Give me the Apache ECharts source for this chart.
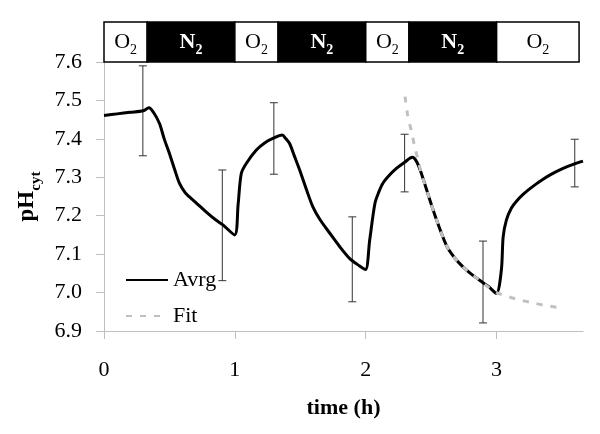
<!DOCTYPE html>
<html><head><meta charset="utf-8">
<script src="https://cdn.jsdelivr.net/npm/echarts@6/dist/echarts.min.js"></script>
<style>html,body{margin:0;padding:0;background:#fff}#c{width:600px;height:434px}</style>
</head><body><div id="c"></div>
<script>
// Average cytosolic pH trace
const avrgTime = [0.00,0.10,0.20,0.30,0.343,0.38,0.424,0.46,0.50,0.54,0.577,0.62,0.653,0.70,0.78,0.85,0.909,0.998,1.025,1.049,1.087,1.164,1.23,1.29,1.362,1.39,1.418,1.455,1.495,1.55,1.596,1.65,1.724,1.80,1.876,1.95,1.998,2.03,2.07,2.10,2.13,2.18,2.234,2.30,2.356,2.39,2.425,2.49,2.54,2.616,2.68,2.743,2.80,2.87,2.94,2.998,3.036,3.05,3.075,3.113,3.15,3.20,3.28,3.355,3.43,3.508,3.58,3.66];
const avrgPH  = [7.461,7.465,7.469,7.473,7.481,7.468,7.44,7.40,7.362,7.32,7.284,7.26,7.249,7.235,7.21,7.19,7.176,7.15,7.23,7.31,7.336,7.371,7.39,7.401,7.41,7.40,7.388,7.355,7.319,7.265,7.223,7.19,7.155,7.12,7.089,7.07,7.06,7.136,7.232,7.262,7.284,7.305,7.323,7.34,7.352,7.34,7.31,7.241,7.19,7.123,7.09,7.067,7.05,7.032,7.015,6.998,7.058,7.145,7.189,7.22,7.237,7.255,7.277,7.295,7.31,7.323,7.333,7.342];
// Fit curve
const fitTime = [2.30,2.32,2.35,2.374,2.40,2.425,2.49,2.54,2.616,2.68,2.743,2.80,2.87,2.94,3.00,3.075,3.15,3.28,3.38,3.48];
const fitPH   = [7.51,7.462,7.418,7.38,7.345,7.31,7.241,7.19,7.123,7.09,7.067,7.05,7.032,7.013,7.0,6.991,6.983,6.973,6.966,6.961];
// Error bars
const errTime = [0.297,0.904,1.298,1.897,2.297,2.896,3.597];
const errLow  = [7.356,7.031,7.308,6.976,7.262,6.921,7.275];
const errHigh = [7.59,7.319,7.494,7.197,7.412,7.134,7.399];
// Gas phases (top bar)
const gasLabels = ['O2','N2','O2','N2','O2','N2','O2'];
const gasStart  = [0,0.33,1,1.33,2,2.33,3];
const gasEnd    = [0.33,1,1.33,2,2.33,3,3.63];
// Axis ticks
const xTicks = [0,1,2,3];

const FF = 'Liberation Serif';
const chart = echarts.init(document.getElementById('c'));
const zip2 = (a,b)=>a.map((v,i)=>[v,b[i]]);

chart.setOption({
  animation:false,
  backgroundColor:'#fff',
  grid:[
    {left:104,right:17,top:62,bottom:103},
    {left:104,right:17,top:22,height:40}
  ],
  xAxis:[
    {type:'value',gridIndex:0,min:0,max:3.66,interval:1,
     axisLine:{lineStyle:{color:'#bfbfbf',width:1}},
     axisTick:{show:true,length:8,inside:false,customValues:xTicks,lineStyle:{color:'#bfbfbf'}},
     axisLabel:{customValues:xTicks,margin:28,fontFamily:FF,fontSize:22,color:'#000'},
     splitLine:{show:false},
     name:'time (h)',nameLocation:'middle',nameGap:66,
     nameTextStyle:{fontFamily:FF,fontSize:22,fontWeight:'bold',color:'#000'}},
    {type:'value',gridIndex:1,min:0,max:3.66,show:false}
  ],
  yAxis:[
    {type:'value',gridIndex:0,min:6.9,max:7.6,interval:0.1,
     axisLine:{show:true,lineStyle:{color:'#bfbfbf',width:1}},
     axisTick:{show:true,length:8,lineStyle:{color:'#bfbfbf'}},
     axisLabel:{margin:22,fontFamily:FF,fontSize:22,color:'#000',formatter:v=>v.toFixed(1)},
     splitLine:{show:false},
     name:'{a|pH}{b|cyt}',nameLocation:'middle',nameGap:64,
     nameTextStyle:{color:'#000',rich:{
       a:{fontFamily:FF,fontSize:23,fontWeight:'bold',color:'#000'},
       b:{fontFamily:FF,fontSize:15,fontWeight:'bold',color:'#000',verticalAlign:'bottom',padding:[0,0,-5,0]}
     }}},
    {type:'value',gridIndex:1,min:0,max:1,show:false}
  ],
  legend:{
    orient:'vertical',left:125,top:268,padding:0,itemWidth:42,itemHeight:14,itemGap:12,
    data:['Avrg','Fit'],
    itemStyle:{color:'rgba(0,0,0,0)',borderColor:'rgba(0,0,0,0)',borderWidth:0},
    textStyle:{fontFamily:FF,fontSize:22,lineHeight:24,color:'#000'}
  },
  series:[
    {type:'custom',name:'err',xAxisIndex:0,yAxisIndex:0,z:1,
     data:errTime.map((t,i)=>[t,errLow[i],errHigh[i]]),
     encode:{x:0,y:[1,2]},
     renderItem:(params,api)=>{
       const t=api.value(0);
       const lo=api.coord([t,api.value(1)]), hi=api.coord([t,api.value(2)]);
       const w=4, st={stroke:'#333',lineWidth:1};
       return {type:'group',children:[
         {type:'line',shape:{x1:hi[0],y1:hi[1],x2:lo[0],y2:lo[1]},style:st},
         {type:'line',shape:{x1:hi[0]-w,y1:hi[1],x2:hi[0]+w,y2:hi[1]},style:st},
         {type:'line',shape:{x1:lo[0]-w,y1:lo[1],x2:lo[0]+w,y2:lo[1]},style:st}
       ]};
     }},
    {type:'line',name:'Avrg',xAxisIndex:0,yAxisIndex:0,z:3,
     data:zip2(avrgTime,avrgPH),showSymbol:false,symbol:'none',smooth:0.3,
     lineStyle:{color:'#000',width:3},itemStyle:{color:'#000'}},
    {type:'line',name:'Fit',xAxisIndex:0,yAxisIndex:0,z:4,
     data:zip2(fitTime,fitPH),showSymbol:false,symbol:'none',smooth:0.3,
     lineStyle:{color:'#c0c0c0',width:3,type:[6,8]},itemStyle:{color:'#c0c0c0'}},
    {type:'custom',name:'gas',xAxisIndex:1,yAxisIndex:1,
     data:gasLabels.map((g,i)=>[gasStart[i],gasEnd[i],i]),
     encode:{x:[0,1]},
     renderItem:(params,api)=>{
       const s=api.value(0), e=api.value(1), idx=api.value(2);
       const g=gasLabels[idx];
       const p0=api.coord([s,1]), p1=api.coord([e,0]);
       const isN=g[0]==='N';
       const col=isN?'#fff':'#000';
       const wt=isN?'bold':'normal';
       return {type:'group',children:[
         {type:'rect',shape:{x:p0[0],y:p0[1],width:p1[0]-p0[0],height:p1[1]-p0[1]},
          style:{fill:isN?'#000':'#fff',stroke:'#000',lineWidth:1.5}},
         {type:'text',x:(p0[0]+p1[0])/2,y:(p0[1]+p1[1])/2,
          style:{text:'{m|'+g[0]+'}{s|'+g.slice(1)+'}',align:'center',verticalAlign:'middle',
            rich:{
              m:{fontFamily:FF,fontSize:22,fontWeight:wt,fill:col},
              s:{fontFamily:FF,fontSize:14,fontWeight:wt,fill:col,verticalAlign:'bottom',padding:[0,0,-4,0]}
            }}}
       ]};
     }}
  ]
});
</script></body></html>
